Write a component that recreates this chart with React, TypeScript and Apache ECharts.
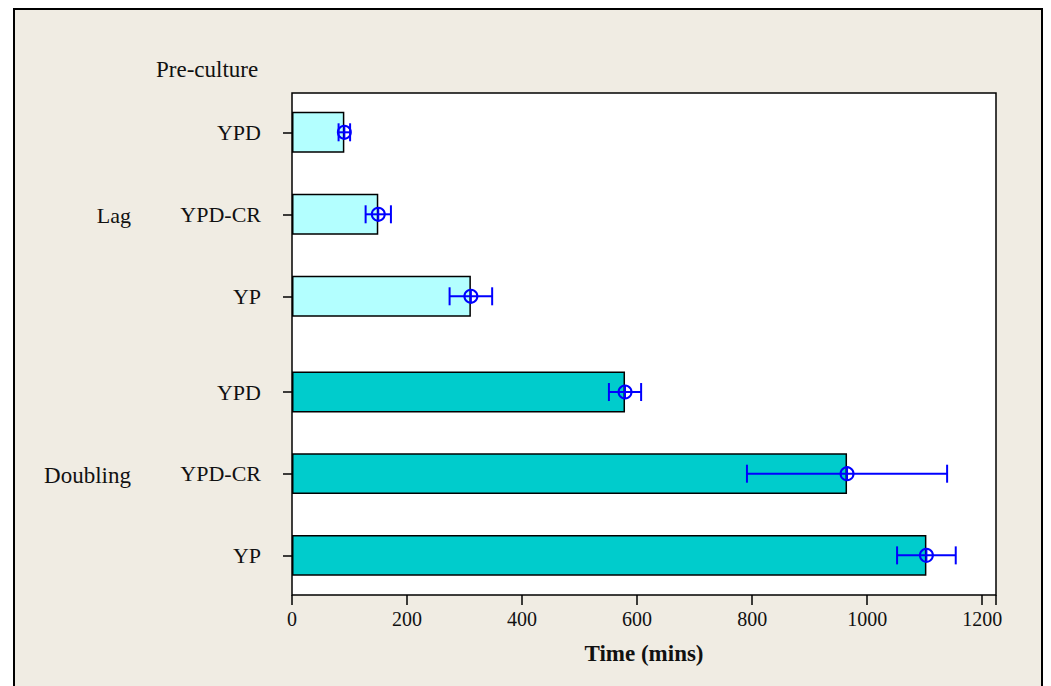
import React, { useEffect, useRef } from "react";
import * as echarts from "echarts";

const categories = ["YPD", "YPD-CR", "YP"];
const lagMeans = [91, 150, 311];
const lagErrors = [10, 22, 37];
const doublingMeans = [579, 965, 1103];
const doublingErrors = [28, 174, 51];
const groupLabels = ["Lag", "Doubling"];
const headerLabel = "Pre-culture";
const xAxisTitle = "Time (mins)";
const xMin = 0;
const xMax = 1224;
const xInterval = 200;

const FONT = "'Liberation Serif', 'Times New Roman', serif";
const BLUE = "#0000FF";

function errorData(means: number[], errs: number[]) {
  return means.map((m, i) => [m, categories[i], m - errs[i], m + errs[i]]);
}

function renderError(params: any, api: any) {
  const cat = api.value(1);
  const mean = api.value(0);
  const low = api.value(2);
  const high = api.value(3);
  const pm = api.coord([mean, cat]);
  const pl = api.coord([low, cat]);
  const ph = api.coord([high, cat]);
  const y = pm[1];
  const cap = 9;
  const r = 6.5;
  const st = { stroke: BLUE, lineWidth: 2, fill: "none" };
  return {
    type: "group",
    children: [
      { type: "line", shape: { x1: pl[0], y1: y, x2: ph[0], y2: y }, style: st },
      { type: "line", shape: { x1: pl[0], y1: y - cap, x2: pl[0], y2: y + cap }, style: st },
      { type: "line", shape: { x1: ph[0], y1: y - cap, x2: ph[0], y2: y + cap }, style: st },
      { type: "circle", shape: { cx: pm[0], cy: y, r }, style: st },
      { type: "line", shape: { x1: pm[0], y1: y - r, x2: pm[0], y2: y + r }, style: st },
    ],
  };
}

export default function App() {
  const ref = useRef<HTMLDivElement>(null);
  useEffect(() => {
    if (!ref.current) return;
    const chart = echarts.init(ref.current, null, { renderer: "svg" });
    const hiddenX = (gi: number) => ({
      type: "value",
      gridIndex: gi,
      min: xMin,
      max: xMax,
      interval: xInterval,
      show: false,
    });
    const catY = (gi: number) => ({
      type: "category",
      gridIndex: gi,
      data: categories,
      inverse: true,
      axisLine: { show: false },
      axisTick: { show: true, alignWithLabel: true, length: 9, lineStyle: { color: "#000", width: 1.5 } },
      axisLabel: { margin: 31, color: "#111", fontFamily: FONT, fontSize: 22 },
      splitLine: { show: false },
    });
    const option: any = {
      animation: false,
      grid: [
        {
          left: 292, top: 93, width: 704, height: 502,
          show: true, backgroundColor: "#ffffff", borderColor: "#000", borderWidth: 1.5,
        },
        { left: 292, top: 91.3, width: 704, height: 246, show: false },
        { left: 292, top: 351.2, width: 704, height: 245, show: false },
      ],
      xAxis: [
        {
          type: "value",
          gridIndex: 0,
          min: xMin,
          max: xMax,
          interval: xInterval,
          axisLine: { show: false },
          axisTick: { show: true, length: 10, lineStyle: { color: "#000", width: 1.5 } },
          axisLabel: {
            margin: 14, color: "#111", fontFamily: FONT, fontSize: 20,
            formatter: (v: number) => (v > 1200 ? "" : String(v)),
          },
          splitLine: { show: false },
          name: xAxisTitle,
          nameLocation: "middle",
          nameGap: 47,
          nameTextStyle: { fontFamily: FONT, fontSize: 23, fontWeight: "bold", color: "#111" },
        },
        hiddenX(1),
        hiddenX(2),
      ],
      yAxis: [
        { type: "value", gridIndex: 0, show: false, min: 0, max: 1 },
        catY(1),
        catY(2),
      ],
      graphic: [
        {
          type: "text", x: 156, y: 69,
          style: { text: headerLabel, font: `23px ${FONT}`, fill: "#111", textVerticalAlign: "middle" },
        },
        {
          type: "text", x: 131, y: 215,
          style: { text: groupLabels[0], font: `22px ${FONT}`, fill: "#111", textAlign: "right", textVerticalAlign: "middle" },
        },
        {
          type: "text", x: 131, y: 475,
          style: { text: groupLabels[1], font: `23px ${FONT}`, fill: "#111", textAlign: "right", textVerticalAlign: "middle" },
        },
      ],
      series: [
        {
          type: "bar",
          name: "Lag",
          xAxisIndex: 1,
          yAxisIndex: 1,
          data: lagMeans,
          barWidth: "50%",
          itemStyle: { color: "#B3FFFF", borderColor: "#000", borderWidth: 1.5 },
        },
        {
          type: "custom",
          xAxisIndex: 1,
          yAxisIndex: 1,
          data: errorData(lagMeans, lagErrors),
          encode: { x: [0, 2, 3], y: 1 },
          renderItem: renderError,
          z: 5,
        },
        {
          type: "bar",
          name: "Doubling",
          xAxisIndex: 2,
          yAxisIndex: 2,
          data: doublingMeans,
          barWidth: "50%",
          itemStyle: { color: "#00CCCC", borderColor: "#000", borderWidth: 1.5 },
        },
        {
          type: "custom",
          xAxisIndex: 2,
          yAxisIndex: 2,
          data: errorData(doublingMeans, doublingErrors),
          encode: { x: [0, 2, 3], y: 1 },
          renderItem: renderError,
          z: 5,
        },
      ],
    };
    chart.setOption(option);
    return () => chart.dispose();
  }, []);

  return (
    <div style={{ position: "absolute", left: 0, top: 0, width: 1051, height: 686, overflow: "hidden", background: "#ffffff" }}>
      <div
        style={{
          position: "absolute", left: 13, top: 8, width: 1030, height: 720,
          border: "2px solid #000", background: "#F0ECE3", boxSizing: "border-box",
        }}
      />
      <div ref={ref} style={{ position: "absolute", left: 0, top: 0, width: 1051, height: 686 }} />
    </div>
  );
}
